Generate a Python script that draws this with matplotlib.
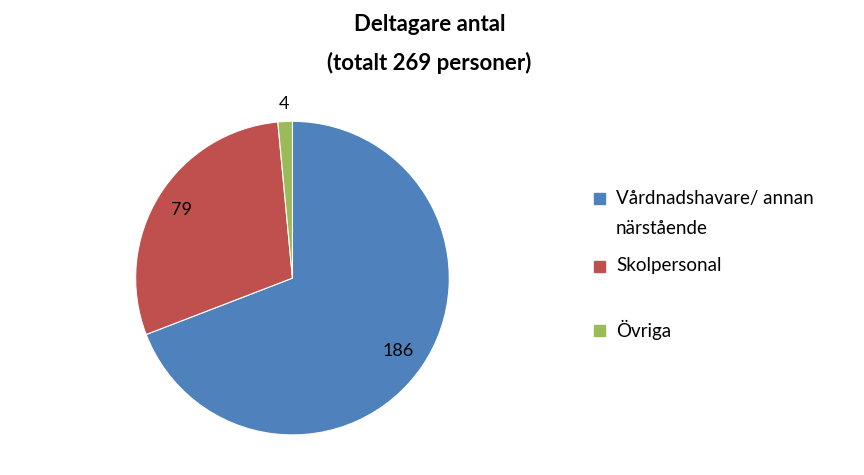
import numpy as np
import matplotlib.pyplot as plt
from matplotlib.patches import Rectangle

plt.rcParams['font.family'] = ['Lato', 'DejaVu Sans']

labels = ['Vårdnadshavare/ annan\nnärstående', 'Skolpersonal', 'Övriga']
values = [186, 79, 4]
colors = ['#4F81BD', '#C0504D', '#9BBB59']
label_dist = [0.82, 0.83, 1.11]

fig = plt.figure(figsize=(8.64, 4.75), dpi=100)
ax = fig.add_axes([0.157, 0.084, 0.363, 0.661])
wedges, _ = ax.pie(values, colors=colors, startangle=90, counterclock=False,
                   wedgeprops=dict(edgecolor='white', linewidth=0.8))
ax.set_aspect('equal')
ax.set_xlim(-1, 1)
ax.set_ylim(-1, 1)

for w, v, d in zip(wedges, values, label_dist):
    ang = np.deg2rad((w.theta1 + w.theta2) / 2)
    ax.text(d * np.cos(ang), d * np.sin(ang), str(v), ha='center', va='center',
            fontsize=13, clip_on=False)

fig.text(0.497, 0.948, 'Deltagare antal', ha='center', va='center',
         fontsize=16, fontweight='bold')
fig.text(0.497, 0.868, '(totalt 269 personer)', ha='center', va='center',
         fontsize=16, fontweight='bold')

leg_y = [0.583, 0.44, 0.305]
for lab, c, y in zip(labels, colors, leg_y):
    fig.patches.append(Rectangle((0.688, y - 0.012), 0.012, 0.022, color=c,
                                 transform=fig.transFigure))
    first = lab.split('\n')
    fig.text(0.713, y, first[0], va='center', fontsize=13.5)
    if len(first) > 1:
        fig.text(0.713, y - 0.063, first[1], va='center', fontsize=13.5)

fig.savefig('out.png', dpi=100)
